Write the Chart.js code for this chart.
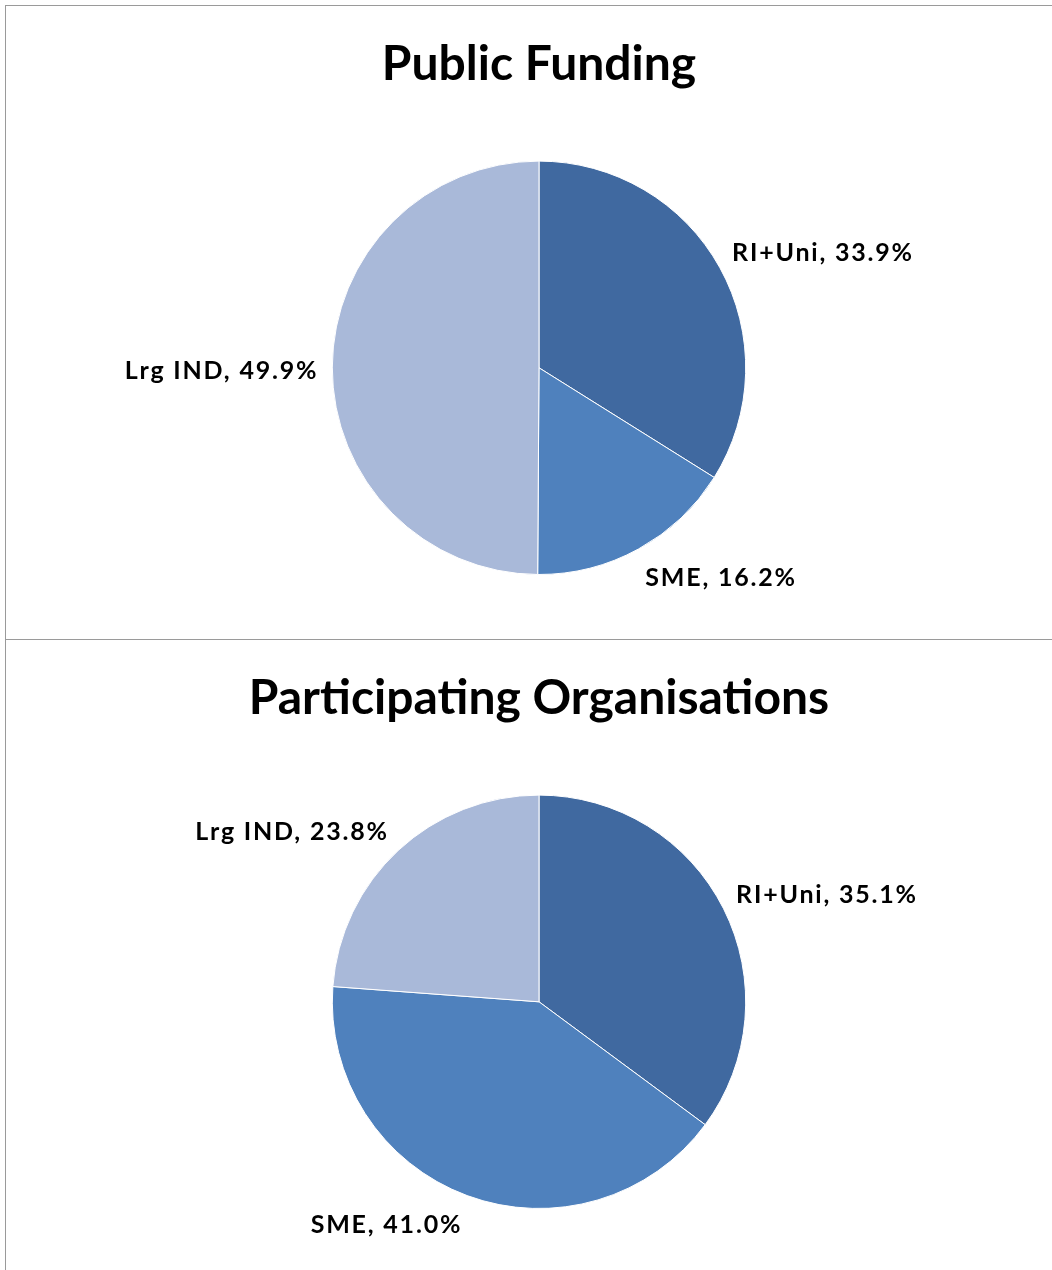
<!DOCTYPE html>
<html>
<head>
<meta charset="utf-8">
<script src="https://cdn.jsdelivr.net/npm/chart.js@4"></script>
<style>
    body { margin: 0; background: #FFFFFF; overflow: hidden; }
    .panel { position: absolute; left: 5px; width: 1060px; border: 1px solid #9A9A9A; background: #FFFFFF; }
    #panel1 { top: 5px; height: 633px; }
    #panel2 { top: 639px; height: 640px; }
    .panel canvas { position: absolute; left: 0; top: 0; }
</style>
</head>
<body>
<div class="panel" id="panel1"><canvas id="funding_chart" width="1046" height="632"></canvas></div>
<div class="panel" id="panel2"><canvas id="orgs_chart" width="1046" height="632"></canvas></div>
<script>
var categories = ['RI+Uni', 'SME', 'Lrg IND'];
var funding_values = [33.9, 16.2, 49.9];
var orgs_values = [35.1, 41.0, 23.8];
var slice_colors = ['#4069A0', '#4F81BD', '#A9B9D9'];

var font_family = 'Lato, "Open Sans", sans-serif';
var label_size = 25;

// data labels outside each slice, like Excel's "outside end"
var outside_labels = {
    id: 'outside_labels',
    afterDatasetsDraw: function(chart) {
        var ctx = chart.ctx;
        var meta = chart.getDatasetMeta(0);
        var values = chart.data.datasets[0].data;
        ctx.save();
        ctx.font = 'bold ' + label_size + 'px ' + font_family;
        ctx.letterSpacing = '1.8px';
        ctx.fillStyle = '#000000';
        ctx.textAlign = 'center';
        ctx.textBaseline = 'middle';
        meta.data.forEach(function(arc, i) {
            var mid = (arc.startAngle + arc.endAngle) / 2;
            var r = arc.outerRadius + 14;
            var px = arc.x + Math.cos(mid) * r;
            var py = arc.y + Math.sin(mid) * r;
            var text = chart.data.labels[i] + ', ' + values[i].toFixed(1) + '%';
            var w = ctx.measureText(text).width;
            var h = label_size;
            var kx = Math.max(-1, Math.min(1, Math.cos(mid) * 3));
            var ky = Math.max(-1, Math.min(1, Math.sin(mid) * 2));
            ctx.fillText(text, px + kx * w / 2, py + ky * h / 2 + 4);
        });
        ctx.restore();
    }
};

function make_pie(id, values, title) {
    return new Chart(document.getElementById(id), {
        type: 'pie',
        data: {
            labels: categories,
            datasets: [{
                data: values,
                backgroundColor: slice_colors,
                borderColor: '#FFFFFF',
                borderWidth: 1
            }]
        },
        options: {
            responsive: false,
            animation: false,
            layout: {
                padding: { left: 20, right: 0, top: 0, bottom: 63 }
            },
            plugins: {
                legend: { display: false },
                tooltip: { enabled: false },
                title: {
                    display: true,
                    text: title,
                    color: '#000000',
                    font: { family: font_family, size: 48, weight: 'bold', lineHeight: 1.2 },
                    padding: { top: 30, bottom: 67 }
                }
            }
        },
        plugins: [outside_labels]
    });
}

var funding_chart = make_pie('funding_chart', funding_values, 'Public Funding');
var orgs_chart = make_pie('orgs_chart', orgs_values, 'Participating Organisations');
</script>
</body>
</html>
